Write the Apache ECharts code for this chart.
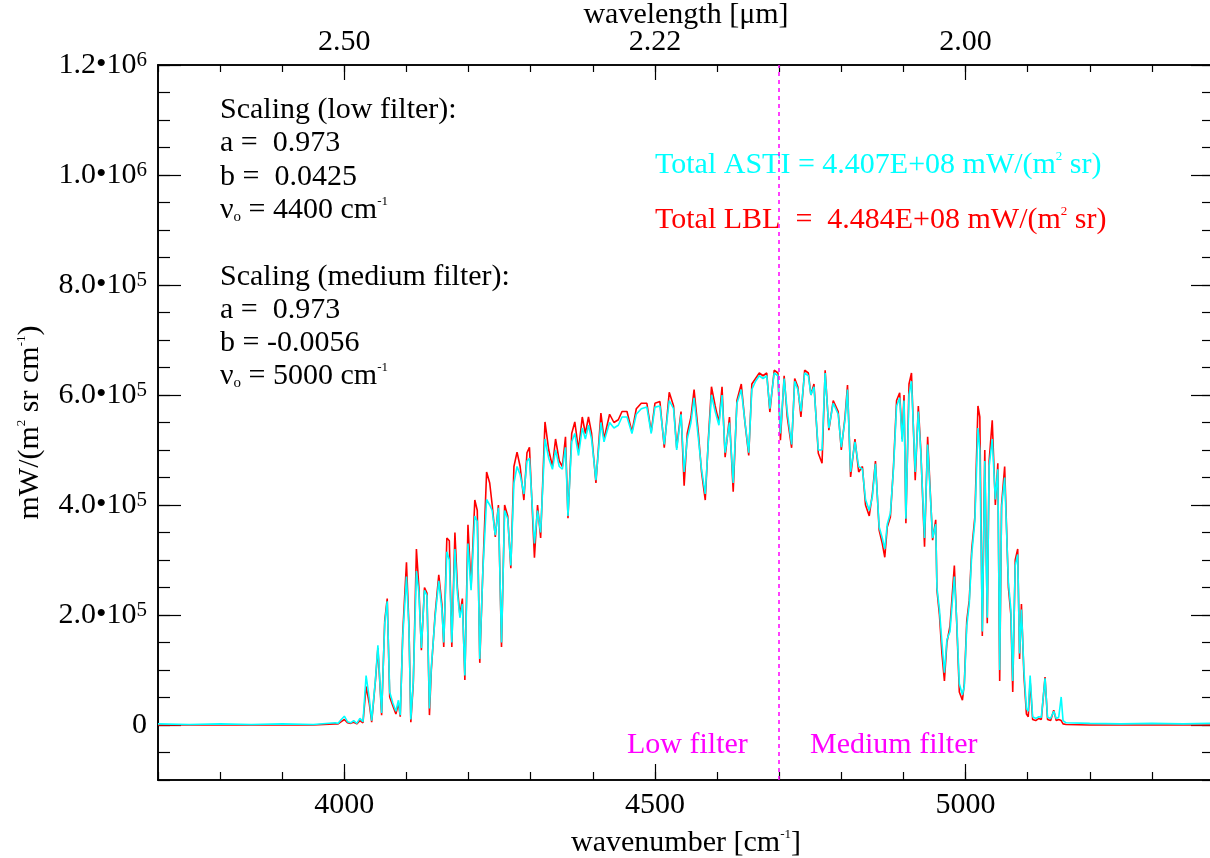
<!DOCTYPE html>
<html>
<head>
<meta charset="utf-8">
<script src="https://cdn.jsdelivr.net/npm/echarts@6/dist/echarts.min.js"></script>
<style>
html, body { margin: 0; padding: 0; background: #fff; }
#chart { width: 1210px; height: 858px; }
</style>
</head>
<body>
<div id="chart"></div>
<script>
// wavenumber (cm-1) and radiance in units of 1e3 mW/(m2 sr cm-1)
var wn = [3700,3750,3800,3850,3900,3950,3985,3990,3995,4000,4005,4010,4015,4020,4025,4030,
  4035,4040,4044,4050,4054,4060,4065,4069,4073,4078,4083,4087,4090,4094,4100,4104,4107,4111,
  4116,4120,4124,4129,4133,4137,4140,4146,4152,4157,4160,4165,4169,4173,4178,4182,4186,4190,
  4194,4199,4204,4210,4214,4218,4223,4229,4234,4238,4243,4248,4253,4258,4263,4268,4273,4278,
  4283,4289,4294,4298,4306,4311,4316,4323,4329,4335,4340,4346,4351,4356,4360,4366,4371,4377,
  4383,4388,4393,4398,4405,4413,4418,4427,4434,4441,4447,4455,4463,4470,4478,4487,4494,4500,
  4508,4515,4523,4530,4535,4542,4547,4552,4558,4563,4570,4575,4581,4586,4591,4597,4603,4608,
  4613,4620,4626,4632,4639,4645,4651,4656,4662,4668,4674,4680,4685,4692,4698,4702,4708,4713,
  4720,4725,4730,4735,4741,4747,4751,4756,4763,4769,4774,4780,4787,4795,4800,4806,4810,4815,
  4822,4828,4834,4839,4845,4850,4855,4861,4866,4870,4874,4879,4884,4889,4894,4898,4901,4904,
  4909,4913,4919,4924,4928,4934,4939,4943,4947,4952,4954,4958,4962,4966,4970,4975,4982,4986,
  4990,4995,4998,5002,5006,5010,5015,5020,5023,5027,5031,5035,5038,5043,5048,5052,5055,5058,
  5063,5069,5073,5076,5080,5084,5087,5090,5094,5098,5101,5104,5108,5113,5118,5122,5128,5132,
  5137,5142,5146,5150,5154,5157,5162,5200,5250,5300,5350,5400];

var lblK = [0,0,0,0,0,0,2,2,6,10,4,3,5,2,8,4,
  70,40,5,80,140,18,190,230,51,35,20,40,15,167,296,180,5,76,
  320,250,136,250,240,18,100,200,273,220,142,340,335,142,350,250,200,230,
  82,364,250,409,390,113,282,460,440,400,342,400,142,400,380,285,470,496,
  470,409,495,505,304,400,340,551,500,470,520,480,470,524,376,530,551,500,
  560,530,560,530,440,567,520,565,550,555,570,570,533,575,585,585,533,585,
  588,504,605,580,504,570,435,530,560,610,530,460,409,520,615,580,550,615,
  487,560,424,590,620,549,490,620,630,640,635,640,569,645,640,518,635,560,
  504,630,615,560,645,640,600,620,494,476,645,536,590,570,500,560,618,451,
  520,460,470,400,380,420,480,354,330,305,360,378,470,590,604,520,600,367,
  620,640,445,580,500,324,524,430,336,373,245,200,130,80,150,180,290,180,
  60,45,75,190,227,320,378,580,560,162,500,185,480,554,400,476,80,400,
  470,250,200,60,300,320,120,220,90,20,15,80,10,8,12,10,87,10,
  8,27,8,10,8,2,1,0,0,0,0,0];

var astiK = [2,1,2,1,2,1,4,3,10,16,6,4,8,3,12,6,
  90,50,8,82,145,22,185,225,60,40,25,45,18,160,270,175,10,80,
  280,240,140,245,235,30,105,195,262,210,150,315,300,150,320,240,195,220,
  90,330,245,380,370,120,280,410,400,390,345,395,150,390,375,290,440,470,
  455,420,480,485,330,390,350,520,485,465,500,470,465,505,380,515,530,490,
  540,520,545,520,445,550,515,550,540,545,560,560,530,565,575,578,530,578,
  580,510,590,575,500,565,460,520,550,595,520,465,420,515,600,570,545,600,
  495,550,440,585,610,550,495,610,625,635,630,635,575,640,635,530,630,570,
  510,625,610,570,640,635,600,615,500,500,640,540,585,565,505,555,610,460,
  515,470,465,410,390,415,475,360,340,320,365,385,465,580,595,515,590,375,
  600,625,460,570,495,340,510,425,340,365,250,210,150,95,155,170,270,185,
  75,55,70,180,220,310,370,540,500,170,480,195,470,520,410,465,100,395,
  450,260,210,80,290,310,130,210,100,30,25,90,15,12,15,14,85,14,
  12,25,12,14,51,8,4,3,2,3,2,3];

var filterEdge = 4700;
var xMajor = [4000, 4500, 5000];
var xTopLabels = ['2.50', '2.22', '2.00'];
var yMajor = [0, 200000, 400000, 600000, 800000, 1000000, 1200000];
var yMant = ['0', '2.0', '4.0', '6.0', '8.0', '1.0', '1.2'];
var yExp = ['', '5', '5', '5', '5', '6', '6'];

var FONT = 'Liberation Serif';
var FS = 30;

var lblData = [];
var astiData = [];
for (var i = 0; i < wn.length; i++) {
    lblData.push([wn[i], lblK[i] * 1000]);
    astiData.push([wn[i], astiK[i] * 1000]);
}

var chart = echarts.init(document.getElementById('chart'));

function xAx(pos, tickLen, major) {
    var ax = {
        type: 'value', position: pos, min: 3700, max: 5400, interval: 100,
        axisLine: { show: true, onZero: false, lineStyle: { color: '#000', width: 1.6 } },
        axisTick: { show: true, inside: true, length: tickLen, lineStyle: { color: '#000', width: 1.2 } },
        axisLabel: { show: false },
        splitLine: { show: false }
    };
    if (major) ax.axisTick.customValues = xMajor;
    return ax;
}
function yAx(pos, tickLen, major) {
    var ax = {
        type: 'value', position: pos, min: -100000, max: 1200000, interval: 50000,
        axisLine: { show: true, onZero: false, lineStyle: { color: '#000', width: 1.6 } },
        axisTick: { show: true, inside: true, length: tickLen, lineStyle: { color: '#000', width: 1.2 } },
        axisLabel: { show: false },
        splitLine: { show: false }
    };
    if (major) ax.axisTick.customValues = yMajor;
    return ax;
}

var xBottom = xAx('bottom', 8, false);
xBottom.name = '{a|wavenumber [cm}{s|-1}{a|]}';
xBottom.nameLocation = 'middle';
xBottom.nameGap = 48;
xBottom.nameTextStyle = {
    rich: {
        a: { fontFamily: FONT, fontSize: FS, color: '#000', lineHeight: 30 },
        s: { fontFamily: FONT, fontSize: 13, color: '#000', verticalAlign: 'top', lineHeight: 20 }
    }
};
var xBottomMajor = xAx('bottom', 16, true);
xBottomMajor.axisLabel = {
    show: true, customValues: xMajor, margin: 10,
    fontFamily: FONT, fontSize: FS, color: '#000',
    formatter: function (v) { return String(v); }
};

var xTop = xAx('top', 7, false);
xTop.name = 'wavelength [\u03bcm]';
xTop.nameLocation = 'middle';
xTop.nameGap = 35;
xTop.nameTextStyle = { fontFamily: FONT, fontSize: FS, color: '#000' };
var xTopMajor = xAx('top', 15, true);
xTopMajor.axisLabel = {
    show: true, customValues: xMajor, margin: 8,
    fontFamily: FONT, fontSize: FS, color: '#000',
    formatter: function (v) { return xTopLabels[xMajor.indexOf(v)]; }
};

var yLeft = yAx('left', 12, false);
yLeft.name = '{a|mW/(m}{s|2}{a| sr cm}{s|-1}{a|)}';
yLeft.nameLocation = 'middle';
yLeft.nameGap = 113;
yLeft.nameTextStyle = {
    rich: {
        a: { fontFamily: FONT, fontSize: FS, color: '#000', lineHeight: 30 },
        s: { fontFamily: FONT, fontSize: 13, color: '#000', verticalAlign: 'top', lineHeight: 20 }
    }
};
var yLeftMajor = yAx('left', 23, true);
yLeftMajor.axisLabel = {
    show: true, customValues: yMajor, margin: 11,
    formatter: function (v) {
        var k = yMajor.indexOf(v);
        if (yExp[k] === '') return '{m|' + yMant[k] + '}';
        return '{m|' + yMant[k] + '\u202210}{e|' + yExp[k] + '}';
    },
    rich: {
        m: { fontFamily: FONT, fontSize: FS, color: '#000', lineHeight: 30 },
        e: { fontFamily: FONT, fontSize: 21, color: '#000', verticalAlign: 'top', lineHeight: 18 }
    }
};
var yRight = yAx('right', 12, false);
var yRightMajor = yAx('right', 23, true);

function note(x, y, text, rich) {
    return {
        type: 'text', left: x, top: y - 15, silent: true,
        style: { text: text, rich: rich }
    };
}
function richColor(c) {
    return {
        a: { fontFamily: FONT, fontSize: FS, fill: c, lineHeight: 30 },
        s: { fontFamily: FONT, fontSize: 13, fill: c, verticalAlign: 'top', lineHeight: 18 },
        u: { fontFamily: FONT, fontSize: 15, fill: c, verticalAlign: 'bottom', lineHeight: 20 }
    };
}
var richBlack = richColor('#000');

var option = {
    animation: false,
    backgroundColor: '#fff',
    grid: { left: 158, right: -4, top: 65, bottom: 78, containLabel: false, outerBoundsMode: 'none' },
    xAxis: [xBottom, xBottomMajor, xTop, xTopMajor],
    yAxis: [yLeft, yLeftMajor, yRight, yRightMajor],
    series: [
        {
            name: 'LBL', type: 'line', data: lblData, xAxisIndex: 0, yAxisIndex: 0,
            showSymbol: false, symbol: 'none', clip: true,
            lineStyle: { color: '#ff0000', width: 1.6 },
            markLine: {
                silent: true, symbol: 'none', label: { show: false },
                lineStyle: { color: '#ff00ff', type: [4, 4], width: 1.5 },
                data: [{ xAxis: filterEdge }]
            }
        },
        {
            name: 'ASTI', type: 'line', data: astiData, xAxisIndex: 0, yAxisIndex: 0,
            showSymbol: false, symbol: 'none', clip: true,
            lineStyle: { color: '#00ffff', width: 1.6 }
        }
    ],
    graphic: [
        note(220, 110, '{a|Scaling (low filter):}', richBlack),
        note(220, 143, '{a|a =  0.973}', richBlack),
        note(220, 177, '{a|b =  0.0425}', richBlack),
        note(220, 210, '{a|\u03bd}{u|o}{a| = 4400 cm}{s|-1}', richBlack),
        note(220, 277, '{a|Scaling (medium filter):}', richBlack),
        note(220, 310, '{a|a =  0.973}', richBlack),
        note(220, 343, '{a|b = -0.0056}', richBlack),
        note(220, 376, '{a|\u03bd}{u|o}{a| = 5000 cm}{s|-1}', richBlack),
        note(655, 165, '{a|Total ASTI = 4.407E+08 mW/(m}{s|2}{a| sr)}', richColor('#00ffff')),
        note(655, 220, '{a|Total LBL  =  4.484E+08 mW/(m}{s|2}{a| sr)}', richColor('#ff0000')),
        note(627, 745, '{a|Low filter}', richColor('#ff00ff')),
        note(810, 745, '{a|Medium filter}', richColor('#ff00ff'))
    ]
};
chart.setOption(option);
</script>
</body>
</html>
